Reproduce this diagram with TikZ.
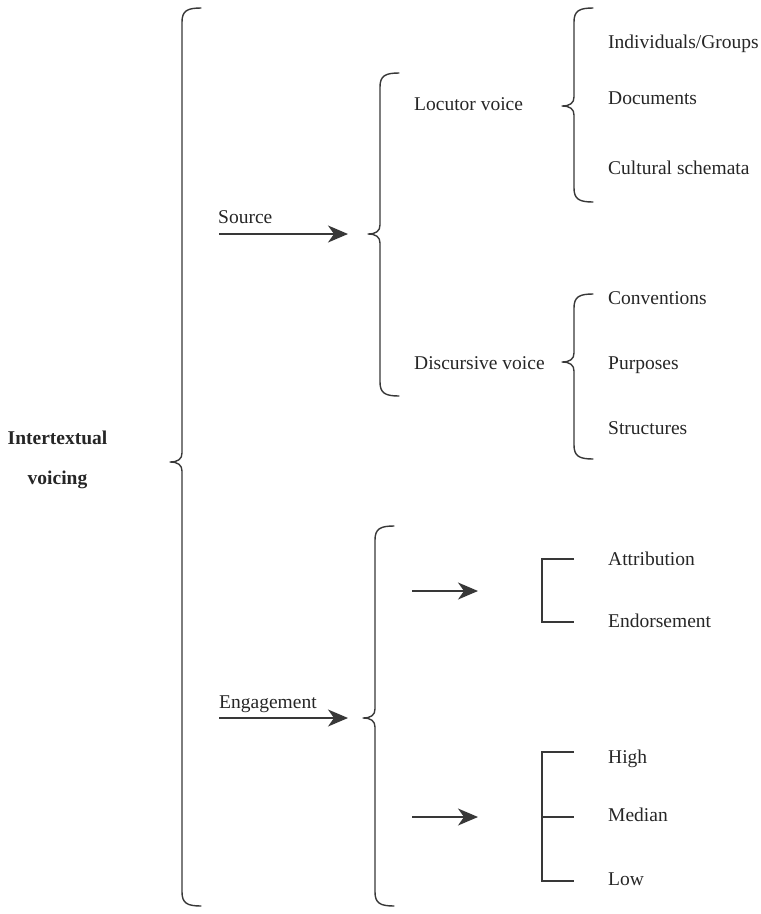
\documentclass[tikz,border=0pt]{standalone}
\usepackage{fontspec}
\setmainfont{Liberation Serif}
\usetikzlibrary{arrows.meta}
\definecolor{ink}{gray}{0.15}
\definecolor{lineink}{gray}{0.22}
% #1 x of the vertical line, #2 top y, #3 tip y, #4 bottom y (pixels, y downwards)
\newcommand\mybrace[4]{%
  \draw[bracestyle] (#1+19,#2) .. controls (#1+5,#2) and (#1,#2+3) .. (#1,#2+14)
    -- (#1,#3-9) .. controls (#1,#3-3) and (#1-4,#3) .. (#1-12,#3)
    .. controls (#1-4,#3) and (#1,#3+3) .. (#1,#3+9)
    -- (#1,#4-14) .. controls (#1,#4-3) and (#1+5,#4) .. (#1+19,#4);}
\begin{document}
\begin{tikzpicture}[x=1pt,y=-1pt,
  lbl/.style={font=\fontsize{19.5}{23}\selectfont, text=ink, inner sep=0pt, anchor=base west},
  boldlbl/.style={font=\fontsize{19.5}{23}\selectfont\bfseries, text=ink, inner sep=0pt, anchor=base},
  bracestyle/.style={draw=lineink, line width=1.4pt, line cap=round, line join=round},
  bracket/.style={draw=lineink, line width=1.4pt},
  arr/.style={draw=lineink, line width=1.4pt, arrows={-Stealth[length=20pt,width=17pt,inset=6pt]}}]
\useasboundingbox (0,0) rectangle (761,914);

% root label
\node[boldlbl] (iv1) at (57.5,444) {Intertextual};
\node[boldlbl] (iv2) at (57.5,484) {voicing};

% big brace
\mybrace{182}{8}{462}{906}

% level 1
\node[lbl] (source) at (218,223) {Source};
\node[lbl] (engage) at (219,708) {Engagement};
\coordinate (srcA) at (219,234);
\coordinate (srcB) at (348,234);
\coordinate (engA) at (219,718);
\coordinate (engB) at (348,718);
\draw[arr] (srcA) -- (srcB);
\draw[arr] (engA) -- (engB);

% source brace and engagement brace
\mybrace{380}{73}{234}{396}
\mybrace{375}{526}{718}{906}

% level 2 (source)
\node[lbl] (locutor) at (414,110) {Locutor voice};
\node[lbl] (discursive) at (414,369) {Discursive voice};
\mybrace{574}{8}{106}{202}
\mybrace{574}{294}{362}{459}

\node[lbl] (indiv) at (608,48) {Individuals/Groups};
\node[lbl] (docs) at (608,104) {Documents};
\node[lbl] (cult) at (608,174) {Cultural schemata};
\node[lbl] (conv) at (608,304) {Conventions};
\node[lbl] (purp) at (608,369) {Purposes};
\node[lbl] (struc) at (608,434) {Structures};

% level 2 (engagement)
\coordinate (a1A) at (412,591);
\coordinate (a1B) at (478,591);
\coordinate (a2A) at (412,817);
\coordinate (a2B) at (478,817);
\draw[arr] (a1A) -- (a1B);
\draw[arr] (a2A) -- (a2B);

\coordinate (b1t) at (542,559);
\coordinate (b1b) at (542,622);
\draw[bracket] (574,559) -- (b1t) -- (b1b) -- (574,622);
\node[lbl] (attr) at (608,565) {Attribution};
\node[lbl] (endo) at (608,627) {Endorsement};

\coordinate (b2t) at (542,752);
\coordinate (b2m) at (542,817);
\coordinate (b2b) at (542,881);
\draw[bracket] (574,752) -- (b2t) -- (b2b) -- (574,881);
\draw[bracket] (b2m) -- (574,817);
\node[lbl] (high) at (608,763) {High};
\node[lbl] (median) at (608,821) {Median};
\node[lbl] (low) at (608,885) {Low};
\end{tikzpicture}
\end{document}
